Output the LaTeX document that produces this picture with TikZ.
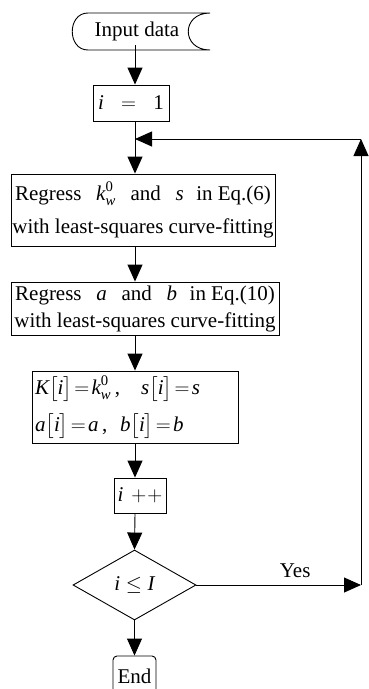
\documentclass[tikz,border=0pt]{standalone}
\usepackage{amsmath}
\usepackage{fontspec}
\setmainfont{Liberation Serif}
\usetikzlibrary{arrows.meta,shapes.geometric}

\newcommand{\vi}[1]{\textit{#1}}

\begin{document}
\begin{tikzpicture}[
    x=1pt, y=-1pt,
    font=\fontsize{21}{33}\selectfont,
    every path/.style={line width=0.9pt},
    proc/.style={rectangle, draw=black, inner sep=1pt, align=center},
    cond/.style={diamond, draw=black, minimum width=123pt,
      minimum height=70pt, inner sep=0pt},
    term/.style={rectangle, draw=black, rounded corners=4pt,
      minimum width=43pt, minimum height=40pt, inner sep=0pt},
    flow/.style={-{Triangle[length=17pt,width=15pt]}}
  ]
    \useasboundingbox (0,0) rectangle (368,689);
    \coordinate (spine) at (135,0);

    % Blocks
    \draw (210,13) -- (88,13) .. controls (67,13) and (67,50) .. (88,50)
      -- (210,50) .. controls (181,50) and (181,13) .. (210,13);
    \node (input) at (137,31) {Input data};
    \node[proc, minimum width=76pt, minimum height=36pt] (init)
      at (131,103) {$\vi{i}\;\;=\;\;\text{1}$};
    \node[proc, minimum width=264pt, minimum height=72pt] (fit1)
      at (143,210) {Regress\hspace{0.7em}$\vi{k}^{\text{0}}_{\vi{w}}$\hspace{0.7em}and\hspace{0.7em}\vi{s}\hspace{0.6em}in Eq.(6)\\
      with least-squares curve-fitting};
    \node[proc, minimum width=268pt, minimum height=53pt] (fit2)
      at (145,308.5) {Regress\hspace{0.7em}\vi{a}\hspace{0.7em}and\hspace{0.7em}\vi{b}\hspace{0.6em}in Eq.(10)\\[-6pt]
      with least-squares curve-fitting};
    \node[proc, minimum width=206pt, minimum height=72pt, text width=200pt,
      align=left] (store) at (135,407)
      {$\vi{K}\bigl[\vi{i}\bigr]\!=\!\vi{k}^{\text{0}}_{\vi{w}}$\,,\hspace{1em}$\vi{s}\bigl[\vi{i}\bigr]\!=\!\vi{s}$\\[4pt]
      $\vi{a}\bigl[\vi{i}\bigr]\!=\!\vi{a}$\,,\hspace{0.6em}$\vi{b}\bigl[\vi{i}\bigr]\!=\!\vi{b}$};
    \node[proc, minimum width=52pt, minimum height=35pt] (incr)
      at (140,495.5) {$\vi{i}\,+\!+$};
    \node[cond] (check) at (134.5,585) {$\vi{i}\le\vi{I}$};
    \node[term] (stop) at (134.5,676) {End};

    % Loop corners
    \coordinate (loopdn) at (361,585);
    \coordinate (loopup) at (361,139);
    \coordinate (join) at (135,139);

    % Connectors
    \draw[flow] (input.south -| spine) ++(0,1) -- (init.north -| spine);
    \draw[flow] (init.south -| spine) -- (fit1.north -| spine);
    \draw[flow] (fit1.south -| spine) -- (fit2.north -| spine);
    \draw[flow] (fit2.south -| spine) -- (store.north -| spine);
    \draw[flow] (store.south -| spine) -- (incr.north -| spine);
    \draw[flow] (incr.south -| spine) -- (check.north);
    \draw[flow] (check.south) -- (stop.north);
    \draw[flow] (check.east) -- node[above, pos=0.6, yshift=4pt] {Yes} (loopdn);
    \draw[flow] (loopdn) -- (loopup);
    \draw[flow] (loopup) -- (join);
  \end{tikzpicture}
\end{document}
